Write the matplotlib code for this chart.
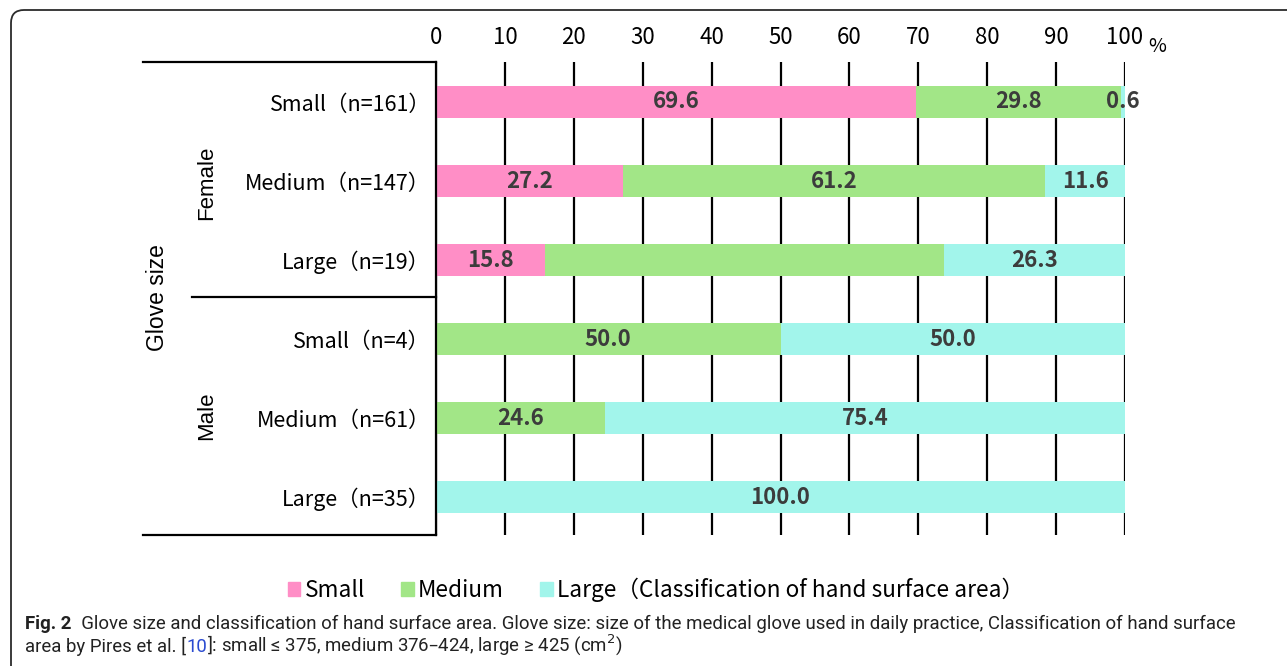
import numpy as np
import matplotlib.pyplot as plt
from matplotlib.patches import Patch, FancyBboxPatch

plt.rcParams['font.family'] = ['Noto Sans CJK JP', 'DejaVu Sans']

# ==============================
# Data
# ==============================
row_labels = ['Small（n=161）', 'Medium（n=147）', 'Large（n=19）',
              'Small（n=4）', 'Medium（n=61）', 'Large（n=35）']
small_pct = [69.6, 27.2, 15.8, 0.0, 0.0, 0.0]
medium_pct = [29.8, 61.2, 57.9, 50.0, 24.6, 0.0]
large_pct = [0.6, 11.6, 26.3, 50.0, 75.4, 100.0]
medium_shown = [True, True, False, True, True, True]   # 57.9 not printed in the source

series = [('Small', small_pct, '#ff8ec6'),
          ('Medium', medium_pct, '#a2e687'),
          ('Large', large_pct, '#a2f5eb')]
legend_labels = ['Small', 'Medium', 'Large（Classification of hand surface area）']

# ==============================
# Figure
# ==============================
W, H = 1287, 666
fig = plt.figure(figsize=(W / 100, H / 100), dpi=100)

# rounded frame of the figure panel
frame = FancyBboxPatch((0.11, -0.5), 13.5, 6.56 + 0.5, boxstyle='round,pad=0,rounding_size=0.13',
                       transform=fig.dpi_scale_trans, fill=False, ec='#2b2b2b', lw=1.3)
fig.patches.append(frame)

ax = fig.add_axes([436 / W, 1 - 535 / H, (1125 - 436) / W, (535 - 62) / H])

y = np.arange(len(row_labels))
left = np.zeros(len(row_labels))
for name, vals, col in series:
    vals = np.array(vals)
    ax.barh(y, vals, left=left, height=0.405, color=col, zorder=2)
    for i, v in enumerate(vals):
        if v <= 0:
            continue
        if name == 'Medium' and not medium_shown[i]:
            continue
        ax.text(left[i] + v / 2, y[i], f'{v:.1f}', ha='center', va='center',
                fontsize=16, fontweight='bold', color='#3c3c3c', zorder=3)
    left += vals

ax.set_xlim(0, 100)
ax.set_ylim(5.48, -0.506)
ax.set_xticks(range(0, 101, 10))
ax.xaxis.tick_top()
ax.tick_params(axis='x', length=0, pad=9, labelsize=16)
ax.set_yticks(y)
ax.set_yticklabels(row_labels)
ax.tick_params(axis='y', length=0, pad=4, labelsize=15.5)
ax.grid(axis='x', color='black', lw=1.6, zorder=0)
ax.set_axisbelow(True)
for s in ['top', 'right', 'bottom']:
    ax.spines[s].set_visible(False)
ax.spines['left'].set_linewidth(1.6)

# category lines on the left
kw = dict(transform=ax.transAxes, clip_on=False, color='black', lw=1.6)
ax.plot([-0.4253, 0], [1, 1], **kw)
ax.plot([-0.354, 0], [0.503, 0.503], **kw)
ax.plot([-0.4253, 0], [0, 0], **kw)

grp_font = ['Liberation Sans', 'DejaVu Sans']
fig.text(207 / W, 1 - 183 / H, 'Female', rotation=90, ha='center', va='center', fontsize=16,
         family=grp_font)
fig.text(207 / W, 1 - 416 / H, 'Male', rotation=90, ha='center', va='center', fontsize=16,
         family=grp_font)
fig.text(157 / W, 1 - 298 / H, 'Glove size', rotation=90, ha='center', va='center', fontsize=16.5,
         family=grp_font)
fig.text(1157 / W, 1 - 46 / H, '%', ha='center', va='center', fontsize=14)

handles = [Patch(color=c) for _, _, c in series]
fig.legend(handles, legend_labels, loc='center', bbox_to_anchor=(656 / W, 1 - 590 / H),
           ncol=3, frameon=False, fontsize=16.3, handlelength=0.55, handleheight=0.55,
           handletextpad=0.2, columnspacing=1.6)

# ==============================
# Caption (pieces laid out along the baseline)
# ==============================
cap_font = ['Roboto', 'DejaVu Sans']
cap_size = 13.4
renderer = fig.canvas.get_renderer()


def caption_line(pieces, x_px, y_px):
    x = x_px
    for txt, color, weight in pieces:
        t = fig.text(x / W, 1 - y_px / H, txt, fontsize=cap_size, family=cap_font,
                     color=color, fontweight=weight, va='baseline')
        x += t.get_window_extent(renderer).width


caption_line([('Fig. 2', '#222222', 'bold'),
              ('  Glove size and classification of hand surface area. Glove size: size of the '
               'medical glove used in daily practice, Classification of hand surface',
               '#222222', 'normal')], 25, 629)
caption_line([('area by Pires et al. [', '#222222', 'normal'),
              ('10', '#2a4ad0', 'normal'),
              (']: small ≤ 375, medium 376–424, large ≥ 425 (cm$^2$)', '#222222', 'normal')],
             25, 652)

fig.savefig('out.png', dpi=100)
